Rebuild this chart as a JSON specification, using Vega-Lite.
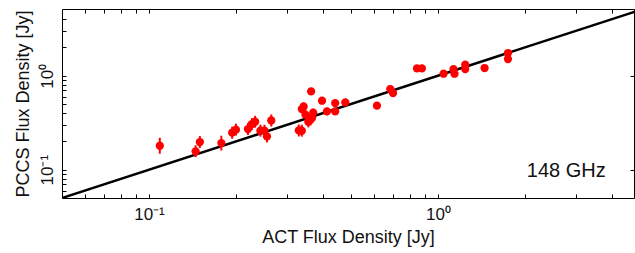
{
  "$schema": "https://vega.github.io/schema/vega-lite/v6.json",
  "width": 572,
  "height": 189,
  "autosize": "none",
  "padding": {"left": 62, "top": 9, "right": 1, "bottom": 55},
  "background": "white",
  "config": {
    "view": {"stroke": "#000", "strokeWidth": 1},
    "font": "Liberation Sans",
    "axis": {
      "domain": false, "grid": false, "tickColor": "#000", "tickSize": -4, "tickWidth": 1,
      "labelFont": "Liberation Sans", "labelFontSize": 17, "labelColor": "#111",
      "titleFont": "Liberation Sans", "titleFontSize": 18, "titleFontWeight": "normal", "titleColor": "#111"
    }
  },
  "datasets": {
    "pts": [
      {"act": 0.109, "pccs": 0.180, "lo": 0.148, "hi": 0.219},
      {"act": 0.145, "pccs": 0.157, "lo": 0.136, "hi": 0.182},
      {"act": 0.150, "pccs": 0.197, "lo": 0.170, "hi": 0.228},
      {"act": 0.178, "pccs": 0.192, "lo": 0.160, "hi": 0.230},
      {"act": 0.194, "pccs": 0.248, "lo": 0.214, "hi": 0.287},
      {"act": 0.200, "pccs": 0.267, "lo": 0.231, "hi": 0.309},
      {"act": 0.220, "pccs": 0.271, "lo": 0.234, "hi": 0.314},
      {"act": 0.227, "pccs": 0.306, "lo": 0.264, "hi": 0.354},
      {"act": 0.233, "pccs": 0.324, "lo": 0.280, "hi": 0.375},
      {"act": 0.243, "pccs": 0.260, "lo": 0.225, "hi": 0.301},
      {"act": 0.251, "pccs": 0.260, "lo": 0.225, "hi": 0.301},
      {"act": 0.256, "pccs": 0.226, "lo": 0.195, "hi": 0.262},
      {"act": 0.265, "pccs": 0.334, "lo": 0.288, "hi": 0.387},
      {"act": 0.330, "pccs": 0.262, "lo": 0.226, "hi": 0.303},
      {"act": 0.338, "pccs": 0.260, "lo": 0.225, "hi": 0.301},
      {"act": 0.338, "pccs": 0.442, "lo": 0.402, "hi": 0.486},
      {"act": 0.343, "pccs": 0.471, "lo": 0.428, "hi": 0.518},
      {"act": 0.364, "pccs": 0.681, "lo": 0.650, "hi": 0.713},
      {"act": 0.348, "pccs": 0.385, "lo": 0.345, "hi": 0.430},
      {"act": 0.356, "pccs": 0.324, "lo": 0.282, "hi": 0.372},
      {"act": 0.362, "pccs": 0.340, "lo": 0.296, "hi": 0.391},
      {"act": 0.367, "pccs": 0.357, "lo": 0.315, "hi": 0.405},
      {"act": 0.370, "pccs": 0.404, "lo": 0.365, "hi": 0.447},
      {"act": 0.397, "pccs": 0.542, "lo": 0.510, "hi": 0.576},
      {"act": 0.413, "pccs": 0.417, "lo": 0.380, "hi": 0.458},
      {"act": 0.441, "pccs": 0.512, "lo": 0.480, "hi": 0.546},
      {"act": 0.441, "pccs": 0.417, "lo": 0.385, "hi": 0.452},
      {"act": 0.478, "pccs": 0.520, "lo": 0.490, "hi": 0.552},
      {"act": 0.615, "pccs": 0.480, "lo": 0.455, "hi": 0.506},
      {"act": 0.684, "pccs": 0.722, "lo": 0.690, "hi": 0.755},
      {"act": 0.699, "pccs": 0.655, "lo": 0.625, "hi": 0.686},
      {"act": 0.846, "pccs": 1.196, "lo": 1.15, "hi": 1.24},
      {"act": 0.880, "pccs": 1.196, "lo": 1.15, "hi": 1.24},
      {"act": 1.046, "pccs": 1.05, "lo": 1.01, "hi": 1.09},
      {"act": 1.132, "pccs": 1.178, "lo": 1.13, "hi": 1.22},
      {"act": 1.141, "pccs": 1.05, "lo": 1.01, "hi": 1.09},
      {"act": 1.243, "pccs": 1.309, "lo": 1.26, "hi": 1.36},
      {"act": 1.243, "pccs": 1.178, "lo": 1.13, "hi": 1.22},
      {"act": 1.45, "pccs": 1.208, "lo": 1.16, "hi": 1.26},
      {"act": 1.747, "pccs": 1.744, "lo": 1.68, "hi": 1.81},
      {"act": 1.747, "pccs": 1.505, "lo": 1.45, "hi": 1.56}
    ],
    "diag": [{"act": 0.04, "pccs": 0.04}, {"act": 6, "pccs": 6}],
    "lbl": [{"act": 2.78, "pccs": 0.0975, "text": "148 GHz"}]
  },
  "layer": [
    {
      "data": {"name": "diag"},
      "mark": {"type": "line", "color": "#000", "strokeWidth": 2.5, "clip": true},
      "encoding": {
        "x": {"field": "act", "type": "quantitative",
          "scale": {"type": "log", "domain": [0.05, 4.77], "nice": false},
          "axis": {"orient": "bottom", "title": "ACT Flux Density [Jy]",
            "values": [0.06, 0.07, 0.08, 0.09, 0.1, 0.2, 0.3, 0.4, 0.5, 0.6, 0.7, 0.8, 0.9, 1, 2, 3, 4],
            "labelExpr": "datum.value == 0.1 ? '10⁻¹' : (datum.value == 1 ? '10⁰' : '')",
            "labelPadding": 12, "titlePadding": 6, "labelFlush": false, "labelOverlap": false}},
        "y": {"field": "pccs", "type": "quantitative",
          "scale": {"type": "log", "domain": [0.05, 5.13], "nice": false},
          "axis": {"orient": "left", "title": "PCCS Flux Density [Jy]",
            "values": [0.06, 0.07, 0.08, 0.09, 0.1, 0.2, 0.3, 0.4, 0.5, 0.6, 0.7, 0.8, 0.9, 1, 2, 3, 4],
            "labelExpr": "datum.value == 0.1 ? '10⁻¹' : (datum.value == 1 ? '10⁰' : '')",
            "labelAngle": -90, "labelAlign": "center", "labelBaseline": "bottom",
            "labelPadding": 10, "titlePadding": 6, "labelFlush": false, "labelOverlap": false}}
      }
    },
    {
      "data": {"name": "pts"},
      "mark": {"type": "rule", "color": "#ff0000", "strokeWidth": 2},
      "encoding": {
        "x": {"field": "act", "type": "quantitative", "axis": null},
        "y": {"field": "lo", "type": "quantitative", "axis": null},
        "y2": {"field": "hi"}
      }
    },
    {
      "data": {"name": "pts"},
      "mark": {"type": "circle", "color": "#ff0000", "size": 68, "opacity": 1},
      "encoding": {
        "x": {"field": "act", "type": "quantitative", "axis": null},
        "y": {"field": "pccs", "type": "quantitative", "axis": null}
      }
    },
    {
      "data": {"name": "lbl"},
      "mark": {"type": "text", "fontSize": 20, "color": "#111", "align": "center", "baseline": "middle", "font": "Liberation Sans"},
      "encoding": {
        "x": {"field": "act", "type": "quantitative", "axis": null},
        "y": {"field": "pccs", "type": "quantitative", "axis": null},
        "text": {"field": "text"}
      }
    },
    {
      "data": {"name": "diag"},
      "mark": {"type": "point", "opacity": 0},
      "encoding": {
        "x": {"field": "act", "type": "quantitative",
          "axis": {"orient": "top", "title": null, "labels": false,
            "values": [0.06, 0.07, 0.08, 0.09, 0.1, 0.2, 0.3, 0.4, 0.5, 0.6, 0.7, 0.8, 0.9, 1, 2, 3, 4]}},
        "y": {"field": "pccs", "type": "quantitative",
          "axis": {"orient": "right", "title": null, "labels": false, "values": [0.1, 1]}}
      }
    }
  ],
  "resolve": {"axis": {"x": "independent", "y": "independent"}}
}
